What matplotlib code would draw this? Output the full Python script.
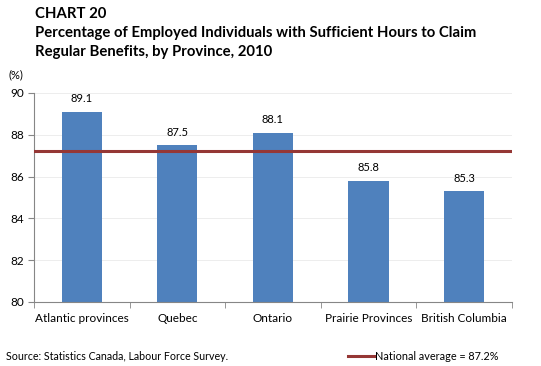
import matplotlib.pyplot as plt
from matplotlib.lines import Line2D

plt.rcParams['font.family'] = ['Lato', 'DejaVu Sans']

provinces = ['Atlantic provinces', 'Quebec', 'Ontario', 'Prairie Provinces', 'British Columbia']
shares = [89.1, 87.5, 88.1, 85.8, 85.3]
national_avg = 87.2
y_ticks = [80, 82, 84, 86, 88, 90]

BAR_CLR = '#4F81BD'
AVG_CLR = '#953735'

fig = plt.figure(figsize=(5.41, 3.66), dpi=100)
ax = fig.add_axes([0.063, 0.175, 0.883, 0.571])

x = list(range(len(provinces)))
ax.bar(x, shares, width=0.42, color=BAR_CLR, zorder=2)
ax.axhline(national_avg, color=AVG_CLR, lw=2.2, zorder=3)

for xi, v in zip(x, shares):
    ax.text(xi, v + 0.35, f'{v:.1f}', ha='center', va='bottom', fontsize=8)

ax.set_xlim(-0.5, len(provinces) - 0.5)
ax.set_ylim(80, 90)
ax.set_yticks(y_ticks)
ax.set_yticklabels([str(t) for t in y_ticks], fontsize=8.5)
ax.grid(axis='y', color='#EDEDED', lw=0.7, zorder=0)

# category labels centred, tick marks between categories
ax.set_xticks(x)
ax.set_xticklabels(provinces, fontsize=8.5)
ax.tick_params(axis='x', length=0, pad=8)
ax.set_xticks([i + 0.5 for i in range(-1, len(provinces))], minor=True)
ax.tick_params(axis='x', which='minor', length=4, color='#868686')
ax.tick_params(axis='y', length=4, color='#868686', pad=3)

for s in ['top', 'right']:
    ax.spines[s].set_visible(False)
for s in ['left', 'bottom']:
    ax.spines[s].set_color('#868686')
    ax.spines[s].set_linewidth(0.8)

fig.text(0.065, 0.962, 'CHART 20', fontsize=10.7, fontweight='bold', va='center')
fig.text(0.065, 0.91, 'Percentage of Employed Individuals with Sufficient Hours to Claim',
         fontsize=10.7, fontweight='bold', va='center')
fig.text(0.065, 0.858, 'Regular Benefits, by Province, 2010',
         fontsize=10.7, fontweight='bold', va='center')
fig.text(0.015, 0.795, '(%)', fontsize=8, va='center')

fig.text(0.011, 0.027, 'Source: Statistics Canada, Labour Force Survey.', fontsize=7.7, va='center')
fig.add_artist(Line2D([0.643, 0.692], [0.027, 0.027], color=AVG_CLR, lw=2.2))
fig.text(0.694, 0.027, f'National average = {national_avg}%', fontsize=7.8, va='center')

fig.savefig('out.png', dpi=100, facecolor='white')
